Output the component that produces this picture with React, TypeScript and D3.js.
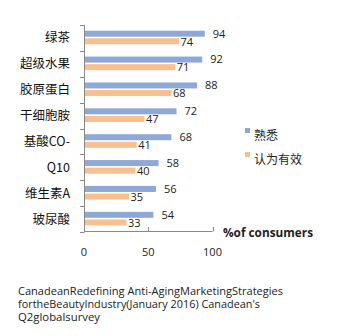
import React from "react";
import * as d3 from "d3";

const categories = ["绿茶", "超级水果", "胶原蛋白", "干细胞胺", "基酸CO-", "Q10", "维生素A", "玻尿酸"];
const familiar = [94, 92, 88, 72, 68, 58, 56, 54];
const effective = [74, 71, 68, 47, 41, 40, 35, 33];
const seriesNames = ["熟悉", "认为有效"];
const xTicks = [0, 50, 100];
const footer = [
  "CanadeanRedefining Anti-AgingMarketingStrategies",
  "fortheBeautyIndustry(January 2016) Canadean's",
  "Q2globalsurvey",
];

const BLUE = "#8EA9D5";
const ORANGE = "#F9C08F";

export default function App() {
  const W = 339, H = 336;
  const x = d3.scaleLinear().domain([0, 100]).range([84, 212.5]);
  const y = d3.scaleBand<string>().domain(categories).range([25, 232]);
  const bw = y.bandwidth();
  const font = "'Segoe UI', 'Open Sans', 'Noto Sans CJK SC', sans-serif";
  const footerLens = [265, 242, 82];
  return (
    <svg width={W} height={H} style={{ position: "absolute", left: 0, top: 0 }} fontFamily={font}>
      <rect width={W} height={H} fill="#fff" />
      {categories.map((c, i) => {
        const y0 = y(c)!;
        return (
          <g key={c}>
            <rect x={x(0)} y={y0 + 5.7} width={x(familiar[i]) - x(0)} height={6} fill={BLUE} />
            <rect x={x(0)} y={y0 + 13.3} width={x(effective[i]) - x(0)} height={6} fill={ORANGE} />
            <text x={x(familiar[i]) + 8} y={y0 + 12.5} fontSize={11} fill="#222">{familiar[i]}</text>
            <text x={x(effective[i]) + 1.5} y={y0 + 20.5} fontSize={11} fill="#222">{effective[i]}</text>
            <text x={70} y={y0 + bw / 2 + 4.5} fontSize={12.5} textAnchor="end" fill="#111"
              fontFamily="'Noto Sans CJK SC', sans-serif">{c}</text>
          </g>
        );
      })}
      {/* y axis */}
      <line x1={84.5} x2={84.5} y1={25} y2={232} stroke="#888" />
      {[...categories.map((c) => y(c)!), 232].map((v, i) => (
        <line key={i} x1={80} x2={84.5} y1={Math.round(v) + 0.5} y2={Math.round(v) + 0.5} stroke="#888" />
      ))}
      {/* x axis */}
      <line x1={84} x2={x(100)} y1={231.5} y2={231.5} stroke="#888" />
      {xTicks.map((t) => (
        <g key={t}>
          {t > 0 && <line x1={Math.round(x(t)) + 0.5} x2={Math.round(x(t)) + 0.5} y1={227} y2={231.5} stroke="#888" />}
          <text x={x(t)} y={256} fontSize={11} textAnchor="middle" fill="#222">{t}</text>
        </g>
      ))}
      <text x={223} y={236.5} fontSize={12.5} fontWeight="bold" fill="#222" textLength={90} lengthAdjust="spacingAndGlyphs">%of consumers</text>
      {/* legend */}
      {seriesNames.map((s, i) => (
        <g key={s}>
          <rect x={245} y={128 + i * 24} width={5} height={5} fill={i === 0 ? BLUE : ORANGE} />
          <text x={254} y={139.5 + i * 24} fontSize={12} fill="#222" fontFamily="'Noto Sans CJK SC', sans-serif">{s}</text>
        </g>
      ))}
      {/* footer */}
      {footer.map((l, i) => (
        <text key={i} x={18} y={295 + i * 13} fontSize={10.5} fill="#222" textLength={footerLens[i]} lengthAdjust="spacingAndGlyphs">{l}</text>
      ))}
    </svg>
  );
}
